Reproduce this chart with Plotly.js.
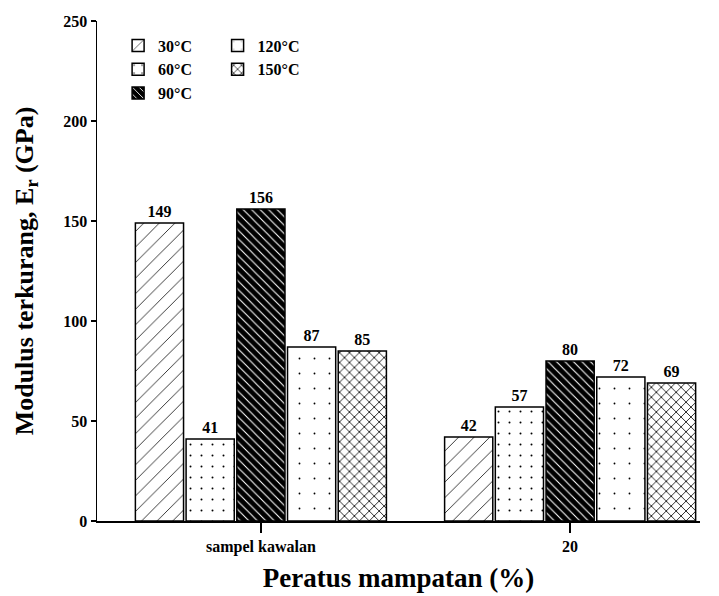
<!DOCTYPE html>
<html>
<head>
<meta charset="utf-8">
<script src="https://cdn.plot.ly/plotly-3.0.1.min.js"></script>
<style>html,body{margin:0;padding:0;background:#fff;}#chart{width:719px;height:596px;}</style>
</head>
<body>
<div id="chart"></div>
<script>
const categories = ["sampel kawalan", "20"];
const seriesNames = ["30°C", "60°C", "90°C", "120°C", "150°C"];
const values30 = [149, 42];
const values60 = [41, 57];
const values90 = [156, 80];
const values120 = [87, 72];
const values150 = [85, 69];
const yTicks = [0, 50, 100, 150, 200, 250];

const serif = "Times New Roman, Liberation Serif, serif";
const boldFont = (size) => ({family: serif, size: size, color: "black", weight: "bold"});

function barTrace(name, vals, pattern, bg, legendName, rank) {
  return {
    type: "bar",
    name: name,
    x: categories,
    y: vals,
    text: vals.map(String),
    textposition: "outside",
    textfont: boldFont(16),
    cliponaxis: false,
    legend: legendName,
    legendrank: rank,
    marker: {
      color: bg,
      line: {color: "black", width: 1.5},
      pattern: pattern
    }
  };
}

const traces = [
  barTrace(seriesNames[0], values30, {shape: "/", size: 11, solidity: 0.07, fgcolor: "black", bgcolor: "white", fillmode: "replace"}, "white", "legend", 1),
  barTrace(seriesNames[1], values60, {shape: ".", size: 11, solidity: 0.025, fgcolor: "black", bgcolor: "white", fillmode: "replace"}, "white", "legend", 2),
  barTrace(seriesNames[2], values90, {shape: "\\", size: 6, solidity: 0.18, fgcolor: "white", bgcolor: "black", fillmode: "replace"}, "black", "legend", 3),
  barTrace(seriesNames[3], values120, {shape: ".", size: 15, solidity: 0.012, fgcolor: "black", bgcolor: "white", fillmode: "replace"}, "white", "legend2", 1),
  barTrace(seriesNames[4], values150, {shape: "x", size: 7, solidity: 0.22, fgcolor: "black", bgcolor: "white", fillmode: "replace"}, "white", "legend2", 2)
];

const layout = {
  width: 719,
  height: 596,
  margin: {l: 97, r: 19, t: 21, b: 75},
  paper_bgcolor: "white",
  plot_bgcolor: "white",
  barmode: "group",
  bargap: 0.18,
  bargroupgap: 0.05,
  showlegend: true,
  legend: {
    x: 0.035, y: 0.985, xanchor: "left", yanchor: "top",
    font: boldFont(16), bgcolor: "rgba(0,0,0,0)", tracegroupgap: 0, itemwidth: 30
  },
  legend2: {
    x: 0.2, y: 0.985, xanchor: "left", yanchor: "top",
    font: boldFont(16), bgcolor: "rgba(0,0,0,0)", tracegroupgap: 0, itemwidth: 30
  },
  xaxis: {
    type: "category",
    range: [-0.53, 1.42],
    showline: true, linecolor: "black", linewidth: 1.5,
    ticks: "outside", ticklen: 10, tickwidth: 1.5, tickcolor: "black",
    showgrid: false, zeroline: false,
    tickfont: boldFont(16),
    title: {text: "Peratus mampatan (%)", font: boldFont(27), standoff: 13}
  },
  yaxis: {
    range: [0, 250],
    tickvals: yTicks,
    showline: true, linecolor: "black", linewidth: 1.5,
    ticks: "outside", ticklen: 5, tickwidth: 1.5, tickcolor: "black",
    showgrid: false, zeroline: false,
    tickfont: boldFont(16),
    title: {text: "Modulus terkurang, E<sub>r</sub> (GPa)", font: boldFont(26), standoff: 22}
  }
};

Plotly.newPlot("chart", traces, layout, {displayModeBar: false, staticPlot: true});
</script>
</body>
</html>
